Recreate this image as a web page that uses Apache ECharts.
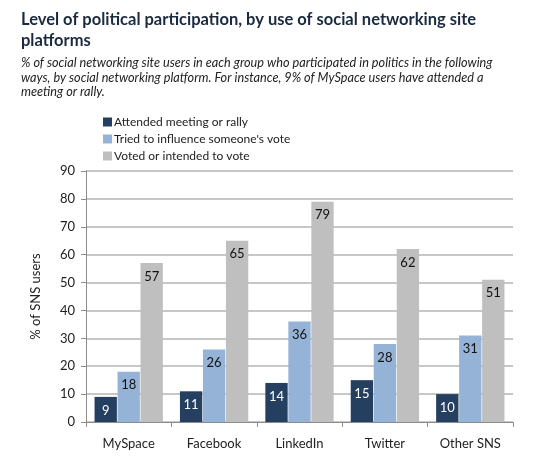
<!DOCTYPE html>
<html>
<head>
<meta charset="utf-8">
<script src="https://cdn.jsdelivr.net/npm/echarts@6/dist/echarts.min.js"></script>
<style>
  html, body { margin: 0; padding: 0; background: #fff; }
  #chart { width: 539px; height: 465px; }
</style>
</head>
<body>
<div id="chart"></div>
<script>
const platforms = ['MySpace', 'Facebook', 'LinkedIn', 'Twitter', 'Other SNS'];
const attended = [9, 11, 14, 15, 10];
const influenced = [18, 26, 36, 28, 31];
const voted = [57, 65, 79, 62, 51];
const seriesNames = ['Attended meeting or rally', "Tried to influence someone's vote", 'Voted or intended to vote'];

const font = 'Lato';
const chart = echarts.init(document.getElementById('chart'));

function barSeries(name, data, color, labelColor) {
  return {
    name,
    type: 'bar',
    data,
    barGap: '3%',
    barCategoryGap: '20%',
    itemStyle: { color },
    label: {
      show: true,
      position: 'insideTop',
      distance: 7,
      color: labelColor,
      fontFamily: font,
      fontSize: 13
    }
  };
}

chart.setOption({
  animation: false,
  title: [
    {
      text: 'Level of political participation, by use of social networking site\nplatforms',
      left: 16,
      top: 4,
      textStyle: { fontFamily: font, fontSize: 16.5, fontWeight: 'bold', color: '#1b2a3e', lineHeight: 21 }
    },
    {
      text: '% of social networking site users in each group who participated in politics in the following\nways, by social networking platform. For instance, 9% of MySpace users have attended a\nmeeting or rally.',
      left: 16,
      top: 51,
      textStyle: { fontFamily: font, fontSize: 12.7, fontStyle: 'italic', fontWeight: 'normal', color: '#222', lineHeight: 14.5 }
    }
  ],
  legend: {
    orient: 'vertical',
    left: 98,
    top: 111,
    itemWidth: 9,
    itemHeight: 9,
    itemGap: 5,
    icon: 'rect',
    textStyle: { fontFamily: font, fontSize: 12, color: '#222', padding: [0, 0, 0, -3] },
    data: seriesNames
  },
  grid: { left: 86, right: 26, top: 171, bottom: 43 },
  xAxis: {
    type: 'category',
    data: platforms,
    axisLine: { lineStyle: { color: '#8c8c8c', width: 1 } },
    axisTick: { show: true, length: 5, lineStyle: { color: '#8c8c8c' } },
    axisLabel: { fontFamily: font, fontSize: 13, color: '#222', margin: 15 }
  },
  yAxis: {
    type: 'value',
    min: 0,
    max: 90,
    interval: 10,
    name: '% of SNS users',
    nameLocation: 'middle',
    nameRotate: 90,
    nameGap: 44,
    nameTextStyle: { fontFamily: font, fontSize: 13, color: '#222' },
    axisLine: { show: true, lineStyle: { color: '#8c8c8c', width: 1 } },
    axisTick: { show: true, length: 5, lineStyle: { color: '#8c8c8c' } },
    axisLabel: { fontFamily: font, fontSize: 13, color: '#222', margin: 11 },
    splitLine: { lineStyle: { color: '#b4b4b4', width: 1.5 } }
  },
  series: [
    barSeries(seriesNames[0], attended, '#243f60', '#fff'),
    barSeries(seriesNames[1], influenced, '#95b3d7', '#111'),
    barSeries(seriesNames[2], voted, '#bfbfbf', '#111')
  ]
});
</script>
</body>
</html>
